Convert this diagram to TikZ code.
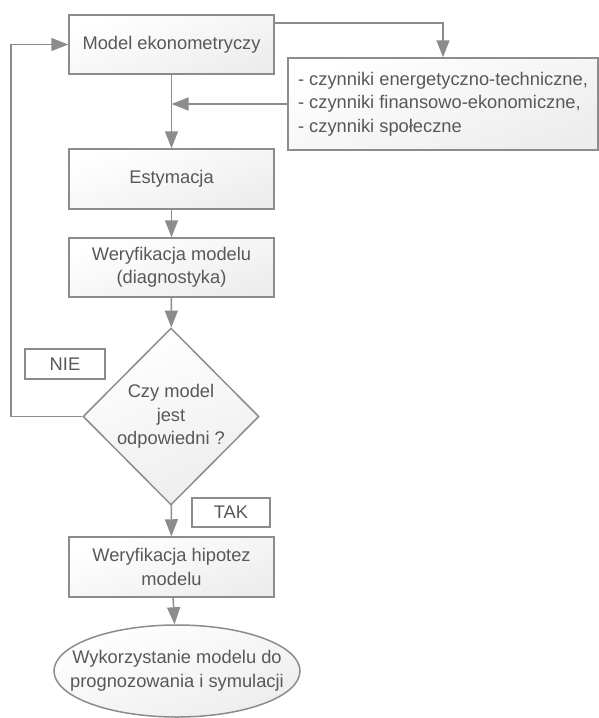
\documentclass[tikz,border=0pt]{standalone}
\usepackage{fontspec}
\setmainfont{Liberation Sans}
\usetikzlibrary{arrows.meta,shapes.geometric}
\definecolor{linegray}{RGB}{140,140,140}
\definecolor{textgray}{RGB}{88,88,88}
\tikzset{
	stepbox/.style={draw=linegray, line width=1.5pt, shading=axis, top color=white, bottom color=black!7, shading angle=20, text=textgray, align=center, inner sep=0pt},
	labelbox/.style={draw=linegray, line width=1.3pt, fill=white, text=textgray, inner sep=0pt},
	arr/.style={draw=linegray, line width=1.5pt, -{Triangle[length=17pt,width=13pt]}},
	conn/.style={draw=linegray, line width=1.5pt}
}

\begin{document}
\begin{tikzpicture}[x=1pt, y=-1pt, font=\fontsize{18.3}{23.5}\selectfont]
			%%%%% START %%%%%
			\useasboundingbox (0,0) rectangle (599,718);
			
			\node[stepbox, minimum width=205pt, minimum height=59pt] (model) at (171.5, 44.5) {Model ekonometryczy};
			\node[stepbox, minimum width=310pt, minimum height=92pt, align=left] (fact) at (443, 104) {- czynniki energetyczno-techniczne,\\- czynniki finansowo-ekonomiczne,\\- czynniki społeczne};
			\node[stepbox, minimum width=205pt, minimum height=60pt] (est) at (171.5, 179) {Estymacja};
			\node[stepbox, minimum width=205pt, minimum height=59pt] (wer) at (171.5, 267.5) {Weryfikacja modelu\\(diagnostyka)};
			\node[stepbox, diamond, minimum width=176pt, minimum height=177pt] (dec) at (171, 416.5) {Czy model\\jest\\odpowiedni ?};
			\node[stepbox, minimum width=205pt, minimum height=60pt] (hip) at (171.5, 567) {Weryfikacja hipotez\\modelu};
			\node[stepbox, ellipse, inner xsep=-22pt, minimum width=246pt, minimum height=92pt] (wyk) at (177, 671) {Wykorzystanie modelu do\\prognozowania i symulacji};
			
			\node[labelbox, minimum width=80pt, minimum height=30pt] (nie) at (65, 364) {NIE};
			\node[labelbox, minimum width=78pt, minimum height=29pt] (tak) at (231, 512.5) {TAK};
			
			\coordinate (out) at (274, 23);
			\coordinate (loop) at (11, 416.5);
			
			\draw[arr] (out) -| (fact.north);
			\draw[arr] (fact.west) -- (fact.west -| model.south);
			\draw[arr] (model) -- (est);
			\draw[arr] (est) -- (wer);
			\draw[arr] (wer) -- (dec);
			\draw[arr] (dec) -- (hip);
			\draw[arr] (hip) -- (wyk);
			\draw[arr] (dec.west) -- (loop) |- (model.west);
			
			%%%%% END %%%%%
		\end{tikzpicture}
\end{document}
